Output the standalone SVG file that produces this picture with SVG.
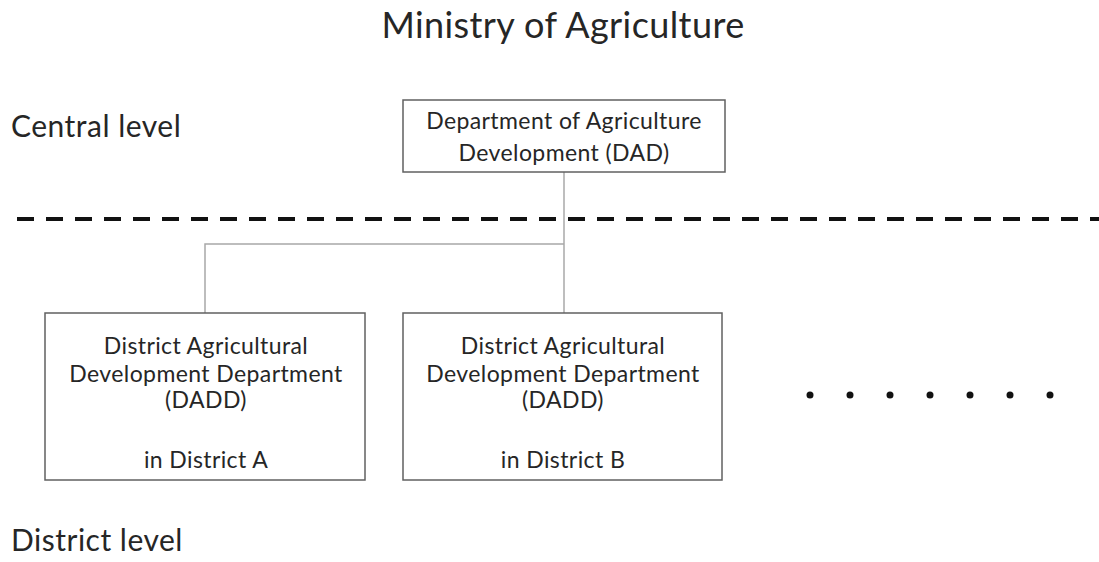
<svg xmlns="http://www.w3.org/2000/svg" width="1099" height="562" viewBox="0 0 1099 562">
  <style>
    text { font-family: "Lato", "Open Sans", "Liberation Sans", sans-serif; fill: #262626; }
    .title { font-size: 36px; letter-spacing: 0.4px; text-anchor: middle; }
    .level { font-size: 30px; letter-spacing: 0.5px; }
    .box { fill: #ffffff; stroke: #606060; stroke-width: 1.5; }
    .label { font-size: 23px; letter-spacing: 0.4px; text-anchor: middle; }
    .link { fill: none; stroke: #a8a8a8; stroke-width: 1.5; }
  </style>

  <rect width="1099" height="562" fill="#ffffff"/>

  <text class="title" x="563" y="38">Ministry of Agriculture</text>
  <text class="level" x="11" y="137">Central level</text>
  <text class="level" x="11" y="551">District level</text>

  <!-- boundary between central and district level -->
  <line x1="17" y1="219" x2="1099" y2="219" stroke="#111111" stroke-width="4" stroke-dasharray="17 12"/>

  <g id="connectors">
    <polyline class="link" points="564,172 564,313"/>
    <polyline class="link" points="564,244 205,244 205,313"/>
  </g>

  <g id="dad">
    <rect class="box" x="403" y="100" width="322" height="72"/>
    <text class="label" x="564" y="129">Department of Agriculture</text>
    <text class="label" x="564" y="161">Development (DAD)</text>
  </g>

  <g id="dadd-a">
    <rect class="box" x="45" y="313" width="320" height="167"/>
    <text class="label" x="206" y="354">District Agricultural</text>
    <text class="label" x="206" y="382">Development Department</text>
    <text class="label" x="206" y="408">(DADD)</text>
    <text class="label" x="206" y="468">in District A</text>
  </g>

  <g id="dadd-b">
    <rect class="box" x="403" y="313" width="319" height="167"/>
    <text class="label" x="563" y="354">District Agricultural</text>
    <text class="label" x="563" y="382">Development Department</text>
    <text class="label" x="563" y="408">(DADD)</text>
    <text class="label" x="563" y="468">in District B</text>
  </g>

  <g id="ellipsis" fill="#111111">
    <circle cx="810" cy="395" r="3.5"/>
    <circle cx="850" cy="395" r="3.5"/>
    <circle cx="890" cy="395" r="3.5"/>
    <circle cx="930" cy="395" r="3.5"/>
    <circle cx="970" cy="395" r="3.5"/>
    <circle cx="1010" cy="395" r="3.5"/>
    <circle cx="1050" cy="395" r="3.5"/>
  </g>
</svg>
